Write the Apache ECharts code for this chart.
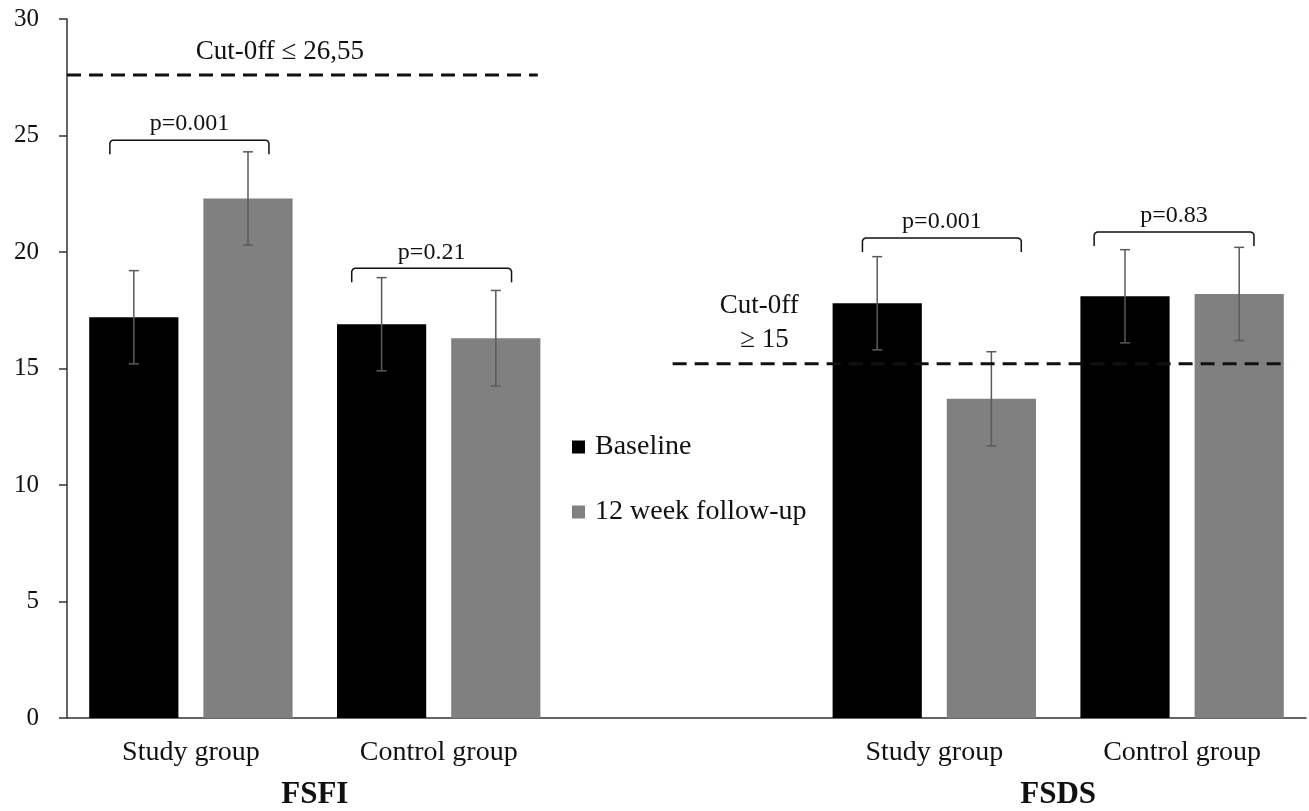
<!DOCTYPE html>
<html><head><meta charset="utf-8">
<script src="https://cdn.jsdelivr.net/npm/echarts@6/dist/echarts.min.js"></script>
<style>html,body{margin:0;padding:0;background:#fff}#c{width:1309px;height:811px}</style>
</head><body><div id="c"></div>
<script>
// ---- data ----
const categories = ['Study group', 'Control group', '', 'Study group', 'Control group'];
const groupLabels = ['FSFI', 'FSDS'];
const groupPositions = [0.5, 3.5];
const seriesNames = ['Baseline', '12 week follow-up'];
const baseline = [17.2, 16.9, null, 17.8, 18.1];
const followUp = [22.3, 16.3, null, 13.7, 18.2];
const baselineSD = [2.0, 2.0, null, 2.0, 2.0];
const followUpSD = [2.0, 2.05, null, 2.02, 2.0];
const bracketFrom = [-0.327, 0.649, 2.710, 3.645];
const bracketTo = [0.315, 1.294, 3.351, 4.290];
const bracketTop = [24.8, 19.3, 20.6, 20.86];
const bracketLabels = ['p=0.001', 'p=0.21', 'p=0.001', 'p=0.83'];
const cutoffFrom = [-0.5, 1.944];
const cutoffTo = [1.40, 4.43];
const cutoffValue = [27.6, 15.2];
const cutoffTextX = [0.359, 2.294, 2.315];
const cutoffTextY = [28.58, 17.68, 16.22];
const cutoffTexts = ['Cut-0ff \u2264 26,55', 'Cut-0ff', '\u2265 15'];

const FONT = "'Liberation Serif', 'Times New Roman', serif";
const barWidthFrac = 0.36, barGapFrac = 0.28;
const off = barWidthFrac * (1 + barGapFrac) / 2;

const errData = [];
baseline.forEach((v, i) => { if (v != null) errData.push([i - off, v - baselineSD[i], v + baselineSD[i]]); });
followUp.forEach((v, i) => { if (v != null) errData.push([i + off, v - followUpSD[i], v + followUpSD[i]]); });

function renderErr(params, api) {
  const x = api.value(0), lo = api.value(1), hi = api.value(2);
  const a = api.coord([x, lo]), b = api.coord([x, hi]);
  const cw = 5, st = { stroke: '#5a5a5a', lineWidth: 1.5 };
  return { type: 'group', children: [
    { type: 'line', shape: { x1: a[0], y1: a[1], x2: b[0], y2: b[1] }, style: st },
    { type: 'line', shape: { x1: a[0] - cw, y1: a[1], x2: a[0] + cw, y2: a[1] }, style: st },
    { type: 'line', shape: { x1: b[0] - cw, y1: b[1], x2: b[0] + cw, y2: b[1] }, style: st }
  ] };
}
function renderBracket(params, api) {
  const p1 = api.coord([api.value(0), api.value(2)]);
  const p2 = api.coord([api.value(1), api.value(2)]);
  const x1 = p1[0], x2 = p2[0], y = p1[1], leg = 14;
  return { type: 'group', children: [
    { type: 'polyline', shape: { points: [[x1, y + leg], [x1, y + 3], [x1 + 1, y + 1], [x1 + 3, y], [x2 - 3, y], [x2 - 1, y + 1], [x2, y + 3], [x2, y + leg]] },
      style: { stroke: '#111', lineWidth: 1.5, fill: null } },
    { type: 'text', x: (x1 + x2) / 2, y: y - 16,
      style: { text: bracketLabels[params.dataIndex], fill: '#111', fontSize: 24, fontFamily: FONT, align: 'center', verticalAlign: 'middle' } }
  ] };
}
function renderCutoff(params, api) {
  const a = api.coord([api.value(0), api.value(2)]), b = api.coord([api.value(1), api.value(2)]);
  return { type: 'line', shape: { x1: a[0], y1: a[1], x2: b[0], y2: b[1] },
    style: { stroke: '#111', lineWidth: 3, lineDash: [14, 8] } };
}
function renderCutoffText(params, api) {
  const p = api.coord([api.value(0), api.value(1)]);
  return { type: 'text', x: p[0], y: p[1],
    style: { text: cutoffTexts[params.dataIndex], fill: '#111', fontSize: 27, fontFamily: FONT, align: 'center', verticalAlign: 'middle' } };
}

const chart = echarts.init(document.getElementById('c'), null, { renderer: 'canvas' });
chart.setOption({
  animation: false,
  backgroundColor: '#fff',
  textStyle: { fontFamily: FONT },
  grid: { left: 67, right: 2, top: 19, bottom: 93, containLabel: false },
  legend: {
    data: seriesNames, orient: 'vertical', left: 572, top: 432, padding: 0,
    itemWidth: 13, itemHeight: 13, itemGap: 35, icon: 'rect',
    textStyle: { fontSize: 28, lineHeight: 30, fontFamily: FONT, color: '#111', padding: [0, 0, 0, 5] }
  },
  xAxis: [
    { type: 'category', data: categories, position: 'bottom',
      axisLine: { show: true, onZero: false, lineStyle: { color: '#333', width: 1.5 } },
      axisTick: { show: false },
      axisLabel: { interval: 0, fontSize: 28, color: '#111', fontFamily: FONT, margin: 21 } },
    { type: 'value', min: -0.5, max: 4.5, interval: 0.5, position: 'bottom', offset: 0,
      axisLine: { show: false, onZero: false }, axisTick: { show: false }, splitLine: { show: false },
      axisLabel: { fontSize: 31, fontWeight: 'bold', color: '#111', fontFamily: FONT, margin: 61,
        formatter: v => { const k = groupPositions.indexOf(v); return k >= 0 ? groupLabels[k] : ''; } } }
  ],
  yAxis: { type: 'value', min: 0, max: 30, interval: 5, position: 'left',
    axisLine: { show: true, onZero: false, lineStyle: { color: '#333', width: 1.5 } },
    axisTick: { show: true, length: 8, lineStyle: { color: '#333', width: 1.5 } },
    splitLine: { show: false },
    axisLabel: { fontSize: 25, color: '#111', fontFamily: FONT, margin: 28 } },
  series: [
    { name: seriesNames[0], type: 'bar', data: baseline.map(v => v == null ? '-' : v),
      barWidth: (barWidthFrac * 100) + '%', barGap: (barGapFrac * 100) + '%', itemStyle: { color: '#000' } },
    { name: seriesNames[1], type: 'bar', data: followUp.map(v => v == null ? '-' : v),
      barWidth: (barWidthFrac * 100) + '%', barGap: (barGapFrac * 100) + '%', itemStyle: { color: '#808080' } },
    { type: 'custom', xAxisIndex: 1, yAxisIndex: 0, z: 5, silent: true, renderItem: renderErr,
      encode: { x: 0, y: [1, 2] }, data: errData },
    { type: 'custom', xAxisIndex: 1, yAxisIndex: 0, z: 6, silent: true, renderItem: renderCutoff,
      encode: { x: [0, 1], y: 2 }, data: cutoffValue.map((v, i) => [cutoffFrom[i], cutoffTo[i], v]) },
    { type: 'custom', xAxisIndex: 1, yAxisIndex: 0, z: 6, silent: true, renderItem: renderBracket,
      encode: { x: [0, 1], y: 2 }, data: bracketTop.map((v, i) => [bracketFrom[i], bracketTo[i], v]) },
    { type: 'custom', xAxisIndex: 1, yAxisIndex: 0, z: 6, silent: true, renderItem: renderCutoffText,
      encode: { x: 0, y: 1 }, data: cutoffTexts.map((t, i) => [cutoffTextX[i], cutoffTextY[i]]) }
  ]
});
</script></body></html>
